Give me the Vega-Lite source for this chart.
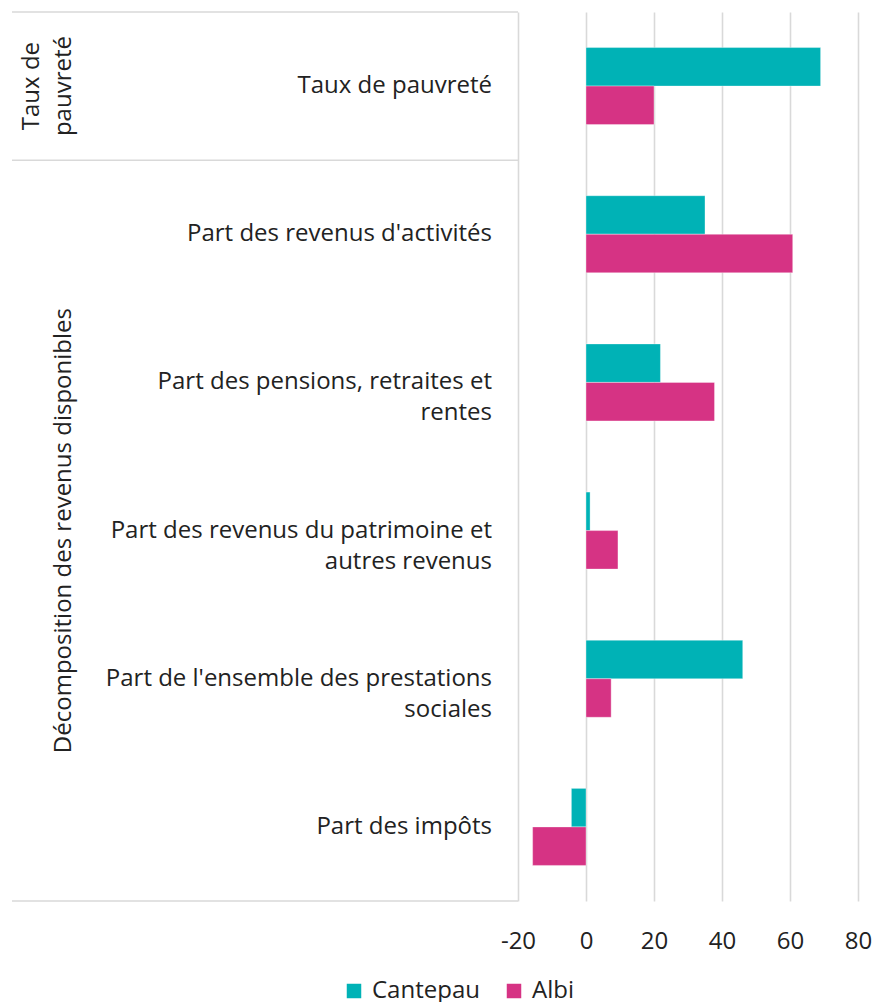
{
  "$schema": "https://vega.github.io/schema/vega-lite/v6.json",
  "padding": {"left": 11, "top": 11, "right": 17, "bottom": 0},
  "background": "white",
  "bounds": "flush",
  "spacing": 0,
  "config": {
    "view": {"stroke": null},
    "font": "Open Sans",
    "text": {"font": "Open Sans", "fontSize": 24, "color": "#222222"}
  },
  "datasets": {
    "bars": [
      {"cat": "Taux de pauvreté", "serie": "Cantepau", "value": 69},
      {"cat": "Taux de pauvreté", "serie": "Albi", "value": 20},
      {"cat": "Part des revenus d'activités", "serie": "Cantepau", "value": 35},
      {"cat": "Part des revenus d'activités", "serie": "Albi", "value": 60.8},
      {"cat": "Part des pensions, retraites et rentes", "serie": "Cantepau", "value": 21.9},
      {"cat": "Part des pensions, retraites et rentes", "serie": "Albi", "value": 37.8},
      {"cat": "Part des revenus du patrimoine et autres revenus", "serie": "Cantepau", "value": 1.2},
      {"cat": "Part des revenus du patrimoine et autres revenus", "serie": "Albi", "value": 9.4},
      {"cat": "Part de l'ensemble des prestations sociales", "serie": "Cantepau", "value": 46.1},
      {"cat": "Part de l'ensemble des prestations sociales", "serie": "Albi", "value": 7.4},
      {"cat": "Part des impôts", "serie": "Cantepau", "value": -4.3},
      {"cat": "Part des impôts", "serie": "Albi", "value": -15.7}
    ],
    "labels": [
      {"cat": "Taux de pauvreté", "label": "Taux de pauvreté"},
      {"cat": "Part des revenus d'activités", "label": "Part des revenus d'activités"},
      {"cat": "Part des pensions, retraites et rentes", "label": "Part des pensions, retraites et|rentes"},
      {"cat": "Part des revenus du patrimoine et autres revenus", "label": "Part des revenus du patrimoine et|autres revenus"},
      {"cat": "Part de l'ensemble des prestations sociales", "label": "Part de l'ensemble des prestations|sociales"},
      {"cat": "Part des impôts", "label": "Part des impôts"}
    ],
    "groups": [
      {"cat": "Taux de pauvreté", "group": "Taux de|pauvreté", "lines": 2},
      {"cat": "Part des revenus du patrimoine et autres revenus", "group": "Décomposition des revenus disponibles", "lines": 1}
    ],
    "groupStarts": [
      {"cat": "Taux de pauvreté"},
      {"cat": "Part des revenus d'activités"}
    ],
    "groupEnds": [
      {"cat": "Part des impôts"}
    ]
  },
  "hconcat": [
    {
      "width": 64,
      "height": 889,
      "layer": [
        {
          "data": {"name": "groups"},
          "transform": [{"filter": "datum.lines == 1"}],
          "mark": {"type": "text", "x": "width", "angle": 270, "align": "center", "baseline": "bottom", "lineBreak": "|", "lineHeight": 31, "fontSize": 24, "color": "#222222"},
          "encoding": {
            "y": {"field": "cat", "type": "nominal", "axis": null,
              "scale": {"type": "band", "paddingInner": 0, "paddingOuter": 0, "domain": ["Taux de pauvreté", "Part des revenus d'activités", "Part des pensions, retraites et rentes", "Part des revenus du patrimoine et autres revenus", "Part de l'ensemble des prestations sociales", "Part des impôts"]}},
            "text": {"field": "group"}
          }
        },
        {
          "data": {"name": "groups"},
          "transform": [{"filter": "datum.lines == 2"}],
          "mark": {"type": "text", "x": "width", "angle": 270, "align": "center", "baseline": "bottom", "dy": -32, "lineBreak": "|", "lineHeight": 32, "fontSize": 24, "color": "#222222"},
          "encoding": {
            "y": {"field": "cat", "type": "nominal"},
            "text": {"field": "group"}
          }
        },
        {
          "data": {"name": "groupStarts"},
          "mark": {"type": "rule", "color": "#d9d9d9", "strokeWidth": 1.5},
          "encoding": {"y": {"field": "cat", "type": "nominal", "bandPosition": 0}}
        },
        {
          "data": {"name": "groupEnds"},
          "mark": {"type": "rule", "color": "#d9d9d9", "strokeWidth": 1.5},
          "encoding": {"y": {"field": "cat", "type": "nominal", "bandPosition": 1}}
        }
      ]
    },
    {
      "width": 442,
      "height": 889,
      "layer": [
        {
          "data": {"name": "labels"},
          "mark": {"type": "text", "x": "width", "align": "right", "dx": -26, "baseline": "middle", "lineBreak": "|", "lineHeight": 31, "fontSize": 24, "color": "#222222"},
          "encoding": {
            "y": {"field": "cat", "type": "nominal", "axis": null,
              "scale": {"type": "band", "paddingInner": 0, "paddingOuter": 0, "domain": ["Taux de pauvreté", "Part des revenus d'activités", "Part des pensions, retraites et rentes", "Part des revenus du patrimoine et autres revenus", "Part de l'ensemble des prestations sociales", "Part des impôts"]}},
            "text": {"field": "label"}
          }
        },
        {
          "data": {"name": "groupStarts"},
          "mark": {"type": "rule", "color": "#d9d9d9", "strokeWidth": 1.5},
          "encoding": {"y": {"field": "cat", "type": "nominal", "bandPosition": 0}}
        },
        {
          "data": {"name": "groupEnds"},
          "mark": {"type": "rule", "color": "#d9d9d9", "strokeWidth": 1.5},
          "encoding": {"y": {"field": "cat", "type": "nominal", "bandPosition": 1}}
        }
      ]
    },
    {
      "width": 340,
      "height": 889,
      "data": {"name": "bars"},
      "mark": {"type": "bar", "stroke": "#ffffff", "strokeOpacity": 0.35, "strokeWidth": 1},
      "encoding": {
        "y": {"field": "cat", "type": "nominal", "axis": null,
          "scale": {"type": "band", "paddingInner": 0.48, "paddingOuter": 0.24, "domain": ["Taux de pauvreté", "Part des revenus d'activités", "Part des pensions, retraites et rentes", "Part des revenus du patrimoine et autres revenus", "Part de l'ensemble des prestations sociales", "Part des impôts"]}},
        "yOffset": {"field": "serie", "type": "nominal", "sort": ["Cantepau", "Albi"], "scale": {"domain": ["Cantepau", "Albi"], "paddingInner": 0, "paddingOuter": 0}},
        "x": {"field": "value", "type": "quantitative",
          "scale": {"domain": [-20, 80], "nice": false, "zero": false},
          "axis": {"values": [-20, 0, 20, 40, 60, 80], "labelExpr": "'' + datum.value", "title": null, "domain": false, "ticks": false, "grid": true, "gridColor": "#d9d9d9", "gridWidth": 1.6, "labelFontSize": 24, "labelFont": "Open Sans", "labelColor": "#222222", "labelPadding": 40, "labelBaseline": "middle", "labelFlush": false}},
        "color": {"field": "serie", "type": "nominal",
          "scale": {"domain": ["Cantepau", "Albi"], "range": ["#00b2b6", "#d63384"]},
          "legend": {"title": null, "orient": "none", "direction": "horizontal", "legendX": 330, "legendY": 967, "symbolType": "square", "symbolSize": 210, "symbolStrokeWidth": 0, "symbolOpacity": 1, "labelFontSize": 24, "labelFont": "Open Sans", "labelColor": "#222222", "labelOffset": 6, "columnPadding": 22, "labelBaseline": "middle"}}
      }
    }
  ]
}
